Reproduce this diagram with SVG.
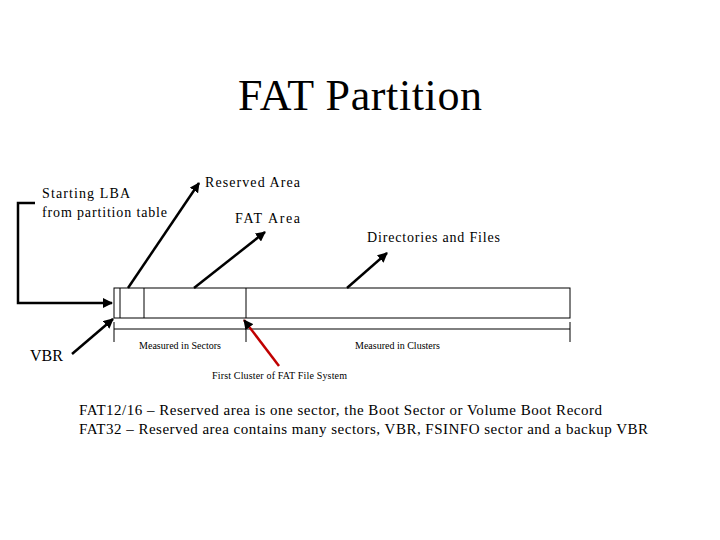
<svg xmlns="http://www.w3.org/2000/svg" width="720" height="540" viewBox="0 0 720 540">
<style>
text{font-family:"Liberation Serif",serif;fill:#000}
.l{font-size:14px}
.s{font-size:10px}
.ln{stroke:#000;stroke-width:2.5;fill:none}
.th{stroke:#000;stroke-width:1;fill:none}
</style>
<defs><marker id="a" viewBox="0 0 10 10" refX="9" refY="5" markerWidth="4" markerHeight="4" orient="auto"><path d="M0,0L10,5L0,10z" fill="#000"/></marker></defs>
<rect width="720" height="540" fill="#fff"/>
<text x="238" y="110" font-size="44" textLength="244">FAT Partition</text>
<g id="partition">
<rect class="th" x="114" y="288" width="456" height="30"/>
<line class="th" x1="120" y1="288" x2="120" y2="318"/>
<line class="th" x1="144" y1="288" x2="144" y2="318"/>
<line class="th" x1="246" y1="288" x2="246" y2="318"/>
</g>
<g id="dimension">
<line class="th" x1="114" y1="329" x2="570" y2="329"/>
<line class="th" x1="114" y1="322" x2="114" y2="342"/>
<line class="th" x1="246" y1="322" x2="246" y2="342"/>
<line class="th" x1="570" y1="322" x2="570" y2="342"/>
<text class="s" x="139" y="349" textLength="82">Measured in Sectors</text>
<text class="s" x="355" y="349" textLength="85">Measured in Clusters</text>
</g>
<g id="labels">
<text class="l" x="42" y="198" textLength="88">Starting LBA</text>
<text class="l" x="42" y="217" textLength="125">from partition table</text>
<text class="l" x="205" y="187" textLength="95">Reserved Area</text>
<text class="l" x="235" y="223" textLength="65">FAT Area</text>
<text class="l" x="367" y="242" textLength="133">Directories and Files</text>
<text x="30" y="361" font-size="16">VBR</text>
<text class="s" x="212" y="379" textLength="135">First Cluster of  FAT File System</text>
</g>
<g id="connectors">
<polyline class="ln" points="35,203 18,203 18,303 112,303" marker-end="url(#a)"/>
<line class="ln" x1="128" y1="288" x2="199" y2="183" marker-end="url(#a)"/>
<line class="ln" x1="194" y1="288" x2="265" y2="232" marker-end="url(#a)"/>
<line class="ln" x1="347" y1="288" x2="387" y2="253" marker-end="url(#a)"/>
<line class="ln" x1="72" y1="354" x2="113" y2="319" marker-end="url(#a)"/>
<line x1="279" y1="366" x2="244" y2="320" stroke="#c00000" stroke-width="2.5" marker-end="url(#a)"/>
</g>
<text x="79" y="415" font-size="15" textLength="523">FAT12/16 – Reserved area is one sector, the Boot Sector or Volume Boot Record</text>
<text x="79" y="434" font-size="15" textLength="569">FAT32 – Reserved area contains many sectors, VBR, FSINFO sector and a backup VBR</text>
</svg>
